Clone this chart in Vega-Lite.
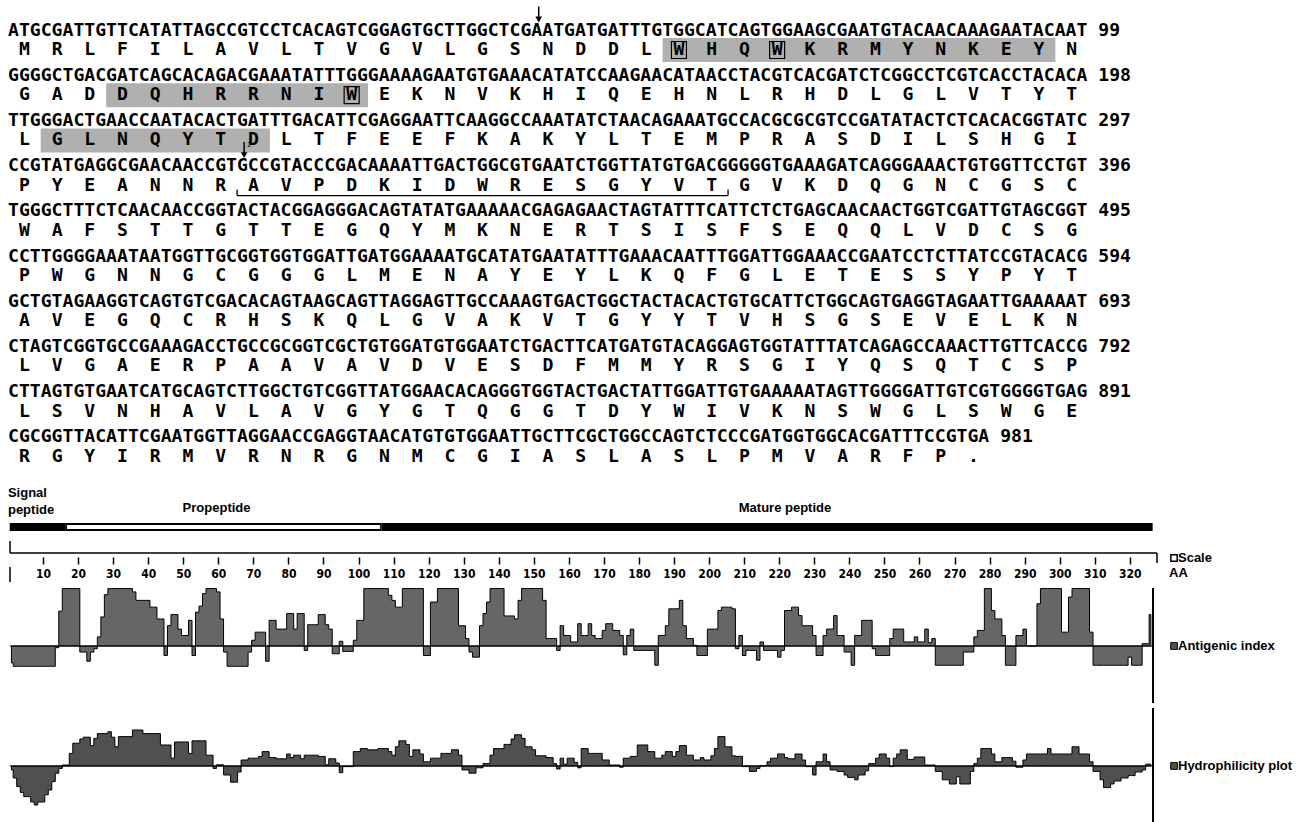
{
"$schema":"https://vega.github.io/schema/vega-lite/v6.json",
"padding":0,"spacing":0,"bounds":"flush","background":"white",
"config":{"view":{"stroke":null}},
"resolve":{"scale":{"x":"independent","y":"independent"}},
"datasets":{
"seq":[
{"row":1,"nt":"ATGCGATTGTTCATATTAGCCGTCCTCACAGTCGGAGTGCTTGGCTCGAATGATGATTTGTGGCATCAGTGGAAGCGAATGTACAACAAAGAATACAAT\u00a099","aa":["M","R","L","F","I","L","A","V","L","T","V","G","V","L","G","S","N","D","D","L","W","H","Q","W","K","R","M","Y","N","K","E","Y","N"],"c":[1,2,3,4,5,6,7,8,9,10,11,12,13,14,15,16,17,18,19,20,21,22,23,24,25,26,27,28,29,30,31,32,33]},
{"row":2,"nt":"GGGGCTGACGATCAGCACAGACGAAATATTTGGGAAAAGAATGTGAAACATATCCAAGAACATAACCTACGTCACGATCTCGGCCTCGTCACCTACACA\u00a0198","aa":["G","A","D","D","Q","H","R","R","N","I","W","E","K","N","V","K","H","I","Q","E","H","N","L","R","H","D","L","G","L","V","T","Y","T"],"c":[1,2,3,4,5,6,7,8,9,10,11,12,13,14,15,16,17,18,19,20,21,22,23,24,25,26,27,28,29,30,31,32,33]},
{"row":3,"nt":"TTGGGACTGAACCAATACACTGATTTGACATTCGAGGAATTCAAGGCCAAATATCTAACAGAAATGCCACGCGCGTCCGATATACTCTCACACGGTATC\u00a0297","aa":["L","G","L","N","Q","Y","T","D","L","T","F","E","E","F","K","A","K","Y","L","T","E","M","P","R","A","S","D","I","L","S","H","G","I"],"c":[1,2,3,4,5,6,7,8,9,10,11,12,13,14,15,16,17,18,19,20,21,22,23,24,25,26,27,28,29,30,31,32,33]},
{"row":4,"nt":"CCGTATGAGGCGAACAACCGTGCCGTACCCGACAAAATTGACTGGCGTGAATCTGGTTATGTGACGGGGGTGAAAGATCAGGGAAACTGTGGTTCCTGT\u00a0396","aa":["P","Y","E","A","N","N","R","A","V","P","D","K","I","D","W","R","E","S","G","Y","V","T","G","V","K","D","Q","G","N","C","G","S","C"],"c":[1,2,3,4,5,6,7,8,9,10,11,12,13,14,15,16,17,18,19,20,21,22,23,24,25,26,27,28,29,30,31,32,33]},
{"row":5,"nt":"TGGGCTTTCTCAACAACCGGTACTACGGAGGGACAGTATATGAAAAACGAGAGAACTAGTATTTCATTCTCTGAGCAACAACTGGTCGATTGTAGCGGT\u00a0495","aa":["W","A","F","S","T","T","G","T","T","E","G","Q","Y","M","K","N","E","R","T","S","I","S","F","S","E","Q","Q","L","V","D","C","S","G"],"c":[1,2,3,4,5,6,7,8,9,10,11,12,13,14,15,16,17,18,19,20,21,22,23,24,25,26,27,28,29,30,31,32,33]},
{"row":6,"nt":"CCTTGGGGAAATAATGGTTGCGGTGGTGGATTGATGGAAAATGCATATGAATATTTGAAACAATTTGGATTGGAAACCGAATCCTCTTATCCGTACACG\u00a0594","aa":["P","W","G","N","N","G","C","G","G","G","L","M","E","N","A","Y","E","Y","L","K","Q","F","G","L","E","T","E","S","S","Y","P","Y","T"],"c":[1,2,3,4,5,6,7,8,9,10,11,12,13,14,15,16,17,18,19,20,21,22,23,24,25,26,27,28,29,30,31,32,33]},
{"row":7,"nt":"GCTGTAGAAGGTCAGTGTCGACACAGTAAGCAGTTAGGAGTTGCCAAAGTGACTGGCTACTACACTGTGCATTCTGGCAGTGAGGTAGAATTGAAAAAT\u00a0693","aa":["A","V","E","G","Q","C","R","H","S","K","Q","L","G","V","A","K","V","T","G","Y","Y","T","V","H","S","G","S","E","V","E","L","K","N"],"c":[1,2,3,4,5,6,7,8,9,10,11,12,13,14,15,16,17,18,19,20,21,22,23,24,25,26,27,28,29,30,31,32,33]},
{"row":8,"nt":"CTAGTCGGTGCCGAAAGACCTGCCGCGGTCGCTGTGGATGTGGAATCTGACTTCATGATGTACAGGAGTGGTATTTATCAGAGCCAAACTTGTTCACCG\u00a0792","aa":["L","V","G","A","E","R","P","A","A","V","A","V","D","V","E","S","D","F","M","M","Y","R","S","G","I","Y","Q","S","Q","T","C","S","P"],"c":[1,2,3,4,5,6,7,8,9,10,11,12,13,14,15,16,17,18,19,20,21,22,23,24,25,26,27,28,29,30,31,32,33]},
{"row":9,"nt":"CTTAGTGTGAATCATGCAGTCTTGGCTGTCGGTTATGGAACACAGGGTGGTACTGACTATTGGATTGTGAAAAATAGTTGGGGATTGTCGTGGGGTGAG\u00a0891","aa":["L","S","V","N","H","A","V","L","A","V","G","Y","G","T","Q","G","G","T","D","Y","W","I","V","K","N","S","W","G","L","S","W","G","E"],"c":[1,2,3,4,5,6,7,8,9,10,11,12,13,14,15,16,17,18,19,20,21,22,23,24,25,26,27,28,29,30,31,32,33]},
{"row":10,"nt":"CGCGGTTACATTCGAATGGTTAGGAACCGAGGTAACATGTGTGGAATTGCTTCGCTGGCCAGTCTCCCGATGGTGGCACGATTTCCGTGA\u00a0981","aa":["R","G","Y","I","R","M","V","R","N","R","G","N","M","C","G","I","A","S","L","A","S","L","P","M","V","A","R","F","P","."],"c":[1,2,3,4,5,6,7,8,9,10,11,12,13,14,15,16,17,18,19,20,21,22,23,24,25,26,27,28,29,30]}
],
"boxes":[{"row":1,"from":21,"to":32},{"row":2,"from":4,"to":11},{"row":3,"from":2,"to":8}],
"wbox":[{"row":1,"codon":21},{"row":1,"codon":24},{"row":2,"codon":11}],
"sites":[{"row":1,"after":16,"label":""},{"row":4,"after":7,"label":"2"}],
"under":[{"row":4,"from":8,"to":22}],
"segments":[{"name":"Signal peptide","start":1,"end":16},{"name":"Propeptide","start":17,"end":106},{"name":"Mature peptide","start":107,"end":326}],
"profile":[
{"r":1,"a":-0.5,"h":-0.33},{"r":2,"a":-0.6,"h":-1.0},{"r":3,"a":-0.6,"h":-1.7},{"r":4,"a":-0.6,"h":-2.2},{"r":5,"a":-0.6,"h":-2.55},{"r":6,"a":-0.6,"h":-2.55},{"r":7,"a":-0.6,"h":-3.0},{"r":8,"a":-0.6,"h":-3.25},{"r":9,"a":-0.6,"h":-3.0},{"r":10,"a":-0.6,"h":-3.0},
{"r":11,"a":-0.6,"h":-2.4},{"r":12,"a":-0.6,"h":-2.0},{"r":13,"a":-0.6,"h":-1.3},{"r":14,"a":-0.05,"h":-0.6},{"r":15,"a":1.03,"h":-0.2},{"r":16,"a":1.7,"h":0.08},{"r":17,"a":1.7,"h":0.08},{"r":18,"a":1.7,"h":1.05},{"r":19,"a":1.7,"h":1.9},{"r":20,"a":1.7,"h":1.9},
{"r":21,"a":-0.18,"h":2.25},{"r":22,"a":-0.18,"h":2.4},{"r":23,"a":-0.45,"h":2.4},{"r":24,"a":-0.18,"h":1.7},{"r":25,"a":-0.08,"h":2.3},{"r":26,"a":0.27,"h":2.7},{"r":27,"a":0.86,"h":2.7},{"r":28,"a":1.52,"h":2.7},{"r":29,"a":1.7,"h":2.85},{"r":30,"a":1.7,"h":2.4},
{"r":31,"a":1.7,"h":1.6},{"r":32,"a":1.7,"h":2.45},{"r":33,"a":1.7,"h":2.45},{"r":34,"a":1.7,"h":2.45},{"r":35,"a":1.7,"h":2.45},{"r":36,"a":1.6,"h":3.0},{"r":37,"a":1.35,"h":3.0},{"r":38,"a":1.35,"h":3.0},{"r":39,"a":1.35,"h":2.7},{"r":40,"a":1.35,"h":2.7},
{"r":41,"a":1.15,"h":2.7},{"r":42,"a":1.15,"h":2.7},{"r":43,"a":0.8,"h":2.7},{"r":44,"a":0.8,"h":1.75},{"r":45,"a":-0.28,"h":1.75},{"r":46,"a":0.6,"h":1.75},{"r":47,"a":0.93,"h":0.65},{"r":48,"a":0.93,"h":2.0},{"r":49,"a":0.5,"h":2.0},{"r":50,"a":0.31,"h":2.0},
{"r":51,"a":0.31,"h":2.0},{"r":52,"a":0.76,"h":1.05},{"r":53,"a":-0.28,"h":2.1},{"r":54,"a":1.0,"h":2.1},{"r":55,"a":1.18,"h":2.1},{"r":56,"a":1.55,"h":2.1},{"r":57,"a":1.7,"h":0.9},{"r":58,"a":1.7,"h":0.9},{"r":59,"a":1.7,"h":-0.2},{"r":60,"a":1.6,"h":0.1},
{"r":61,"a":0.8,"h":0.1},{"r":62,"a":-0.18,"h":-0.75},{"r":63,"a":-0.6,"h":-0.75},{"r":64,"a":-0.6,"h":-1.35},{"r":65,"a":-0.6,"h":-1.35},{"r":66,"a":-0.6,"h":-0.5},{"r":67,"a":-0.6,"h":0.5},{"r":68,"a":-0.6,"h":0.5},{"r":69,"a":-0.18,"h":0.65},{"r":70,"a":0.17,"h":0.65},
{"r":71,"a":0.41,"h":0.65},{"r":72,"a":0.41,"h":0.8},{"r":73,"a":0.41,"h":1.2},{"r":74,"a":-0.45,"h":1.2},{"r":75,"a":0.76,"h":0.7},{"r":76,"a":0.76,"h":0.7},{"r":77,"a":0.5,"h":0.6},{"r":78,"a":0.5,"h":0.6},{"r":79,"a":0.5,"h":0.6},{"r":80,"a":0.96,"h":1.0},
{"r":81,"a":0.96,"h":0.7},{"r":82,"a":0.5,"h":0.9},{"r":83,"a":0.96,"h":0.9},{"r":84,"a":0.96,"h":0.6},{"r":85,"a":-0.13,"h":0.9},{"r":86,"a":0.63,"h":0.9},{"r":87,"a":0.63,"h":0.9},{"r":88,"a":0.63,"h":0.9},{"r":89,"a":0.93,"h":0.8},{"r":90,"a":0.93,"h":0.8},
{"r":91,"a":0.63,"h":0.1},{"r":92,"a":0.5,"h":0.6},{"r":93,"a":-0.23,"h":0.6},{"r":94,"a":-0.23,"h":0.25},{"r":95,"a":0.14,"h":-0.55},{"r":96,"a":-0.16,"h":-0.05},{"r":97,"a":-0.16,"h":-0.05},{"r":98,"a":-0.16,"h":-0.05},{"r":99,"a":0.17,"h":1.2},{"r":100,"a":0.76,"h":1.2},
{"r":101,"a":0.76,"h":1.45},{"r":102,"a":1.7,"h":1.45},{"r":103,"a":1.7,"h":1.35},{"r":104,"a":1.7,"h":1.35},{"r":105,"a":1.7,"h":1.35},{"r":106,"a":1.7,"h":1.45},{"r":107,"a":1.7,"h":1.45},{"r":108,"a":1.7,"h":1.45},{"r":109,"a":1.5,"h":1.2},{"r":110,"a":1.35,"h":0.9},
{"r":111,"a":1.15,"h":1.6},{"r":112,"a":1.15,"h":2.1},{"r":113,"a":1.7,"h":2.1},{"r":114,"a":1.7,"h":1.8},{"r":115,"a":1.7,"h":0.8},{"r":116,"a":1.7,"h":1.35},{"r":117,"a":1.7,"h":1.35},{"r":118,"a":1.7,"h":1.0},{"r":119,"a":-0.28,"h":0.35},{"r":120,"a":-0.28,"h":0.35},
{"r":121,"a":1.3,"h":0.65},{"r":122,"a":1.3,"h":0.65},{"r":123,"a":1.7,"h":0.65},{"r":124,"a":1.7,"h":1.05},{"r":125,"a":1.7,"h":1.05},{"r":126,"a":1.7,"h":1.05},{"r":127,"a":1.7,"h":1.35},{"r":128,"a":1.7,"h":1.35},{"r":129,"a":0.6,"h":0.9},{"r":130,"a":0.6,"h":-0.33},
{"r":131,"a":0.22,"h":-0.33},{"r":132,"a":-0.18,"h":-0.6},{"r":133,"a":-0.33,"h":-0.6},{"r":134,"a":-0.33,"h":-0.15},{"r":135,"a":0.6,"h":-0.15},{"r":136,"a":0.96,"h":0.2},{"r":137,"a":1.3,"h":0.2},{"r":138,"a":1.7,"h":0.9},{"r":139,"a":1.7,"h":1.45},{"r":140,"a":1.7,"h":1.45},
{"r":141,"a":1.7,"h":1.45},{"r":142,"a":0.89,"h":1.8},{"r":143,"a":0.89,"h":1.8},{"r":144,"a":0.89,"h":2.25},{"r":145,"a":0.8,"h":2.6},{"r":146,"a":1.35,"h":2.6},{"r":147,"a":1.7,"h":2.3},{"r":148,"a":1.7,"h":1.6},{"r":149,"a":1.7,"h":1.6},{"r":150,"a":1.7,"h":1.35},
{"r":151,"a":1.7,"h":0.85},{"r":152,"a":1.7,"h":0.85},{"r":153,"a":1.35,"h":0.85},{"r":154,"a":0.22,"h":0.7},{"r":155,"a":0.22,"h":0.7},{"r":156,"a":0.22,"h":0.2},{"r":157,"a":-0.13,"h":-0.25},{"r":158,"a":0.6,"h":0.65},{"r":159,"a":0.31,"h":0.15},{"r":160,"a":0.31,"h":0.65},
{"r":161,"a":0.12,"h":0.65},{"r":162,"a":0.12,"h":0.3},{"r":163,"a":0.66,"h":-0.15},{"r":164,"a":0.31,"h":1.45},{"r":165,"a":0.31,"h":1.45},{"r":166,"a":0.66,"h":1.05},{"r":167,"a":0.31,"h":1.05},{"r":168,"a":0.22,"h":1.05},{"r":169,"a":0.22,"h":1.05},{"r":170,"a":0.46,"h":0.5},
{"r":171,"a":0.66,"h":0.5},{"r":172,"a":0.66,"h":0.08},{"r":173,"a":0.46,"h":0.08},{"r":174,"a":0.46,"h":0.08},{"r":175,"a":0.31,"h":-0.1},{"r":176,"a":-0.26,"h":0.65},{"r":177,"a":0.31,"h":0.65},{"r":178,"a":0.5,"h":0.8},{"r":179,"a":-0.13,"h":0.8},{"r":180,"a":-0.13,"h":1.75},
{"r":181,"a":-0.13,"h":1.75},{"r":182,"a":-0.13,"h":1.75},{"r":183,"a":-0.13,"h":1.2},{"r":184,"a":-0.13,"h":1.2},{"r":185,"a":-0.57,"h":0.65},{"r":186,"a":0.31,"h":0.65},{"r":187,"a":0.31,"h":0.9},{"r":188,"a":0.6,"h":1.2},{"r":189,"a":1.1,"h":1.2},{"r":190,"a":1.1,"h":0.8},
{"r":191,"a":1.1,"h":1.2},{"r":192,"a":1.35,"h":1.7},{"r":193,"a":0.6,"h":1.7},{"r":194,"a":0.22,"h":0.9},{"r":195,"a":0.22,"h":0.9},{"r":196,"a":0.02,"h":0.5},{"r":197,"a":-0.28,"h":0.5},{"r":198,"a":-0.28,"h":0.7},{"r":199,"a":-0.28,"h":0.5},{"r":200,"a":0.5,"h":0.5},
{"r":201,"a":0.5,"h":0.85},{"r":202,"a":0.5,"h":1.45},{"r":203,"a":1.05,"h":2.45},{"r":204,"a":1.15,"h":2.45},{"r":205,"a":1.15,"h":1.6},{"r":206,"a":1.15,"h":1.6},{"r":207,"a":1.1,"h":0.85},{"r":208,"a":-0.08,"h":0.8},{"r":209,"a":0.31,"h":0.8},{"r":210,"a":-0.28,"h":-0.05},
{"r":211,"a":-0.13,"h":-0.05},{"r":212,"a":-0.13,"h":-0.45},{"r":213,"a":-0.13,"h":-0.45},{"r":214,"a":-0.42,"h":-0.2},{"r":215,"a":0.12,"h":0.02},{"r":216,"a":-0.13,"h":0.02},{"r":217,"a":-0.13,"h":0.35},{"r":218,"a":-0.13,"h":0.65},{"r":219,"a":-0.13,"h":0.65},{"r":220,"a":-0.33,"h":1.0},
{"r":221,"a":-0.13,"h":1.0},{"r":222,"a":1.05,"h":0.7},{"r":223,"a":1.05,"h":0.6},{"r":224,"a":1.15,"h":0.6},{"r":225,"a":1.15,"h":1.0},{"r":226,"a":0.9,"h":1.0},{"r":227,"a":0.6,"h":0.5},{"r":228,"a":0.6,"h":-0.05},{"r":229,"a":0.6,"h":-0.05},{"r":230,"a":0.31,"h":-0.75},
{"r":231,"a":-0.28,"h":0.35},{"r":232,"a":-0.28,"h":0.35},{"r":233,"a":0.31,"h":1.0},{"r":234,"a":0.5,"h":0.35},{"r":235,"a":0.5,"h":-0.33},{"r":236,"a":0.9,"h":-0.33},{"r":237,"a":0.31,"h":-0.45},{"r":238,"a":0.31,"h":-0.45},{"r":239,"a":-0.18,"h":-0.75},{"r":240,"a":-0.18,"h":-0.95},
{"r":241,"a":-0.57,"h":-0.95},{"r":242,"a":0.31,"h":-1.15},{"r":243,"a":0.31,"h":-0.75},{"r":244,"a":0.76,"h":-0.75},{"r":245,"a":0.76,"h":-0.4},{"r":246,"a":0.76,"h":0.2},{"r":247,"a":-0.08,"h":0.2},{"r":248,"a":-0.28,"h":0.65},{"r":249,"a":-0.28,"h":1.0},{"r":250,"a":-0.28,"h":1.0},
{"r":251,"a":-0.28,"h":0.65},{"r":252,"a":0.22,"h":-0.05},{"r":253,"a":0.5,"h":0.65},{"r":254,"a":0.5,"h":1.0},{"r":255,"a":0.5,"h":1.35},{"r":256,"a":0.12,"h":1.35},{"r":257,"a":0.12,"h":0.55},{"r":258,"a":0.12,"h":0.55},{"r":259,"a":0.27,"h":0.75},{"r":260,"a":0.12,"h":0.75},
{"r":261,"a":0.12,"h":0.75},{"r":262,"a":0.5,"h":0.08},{"r":263,"a":0.1,"h":0.08},{"r":264,"a":0.22,"h":0.08},{"r":265,"a":-0.57,"h":-0.45},{"r":266,"a":-0.57,"h":-0.45},{"r":267,"a":-0.57,"h":-1.15},{"r":268,"a":-0.57,"h":-1.15},{"r":269,"a":-0.57,"h":-1.5},{"r":270,"a":-0.57,"h":-1.5},
{"r":271,"a":-0.57,"h":-0.9},{"r":272,"a":-0.57,"h":-1.5},{"r":273,"a":-0.18,"h":-1.5},{"r":274,"a":-0.18,"h":-1.5},{"r":275,"a":-0.18,"h":-0.45},{"r":276,"a":0.27,"h":0.2},{"r":277,"a":0.46,"h":0.65},{"r":278,"a":0.46,"h":1.45},{"r":279,"a":1.7,"h":1.45},{"r":280,"a":1.7,"h":1.45},
{"r":281,"a":1.05,"h":1.0},{"r":282,"a":0.8,"h":0.35},{"r":283,"a":0.8,"h":0.35},{"r":284,"a":0.31,"h":0.7},{"r":285,"a":-0.57,"h":0.7},{"r":286,"a":-0.57,"h":0.7},{"r":287,"a":-0.57,"h":0.4},{"r":288,"a":0.31,"h":-0.1},{"r":289,"a":0.31,"h":-0.1},{"r":290,"a":0.5,"h":0.5},
{"r":291,"a":0.0,"h":1.0},{"r":292,"a":0.0,"h":1.0},{"r":293,"a":0.0,"h":1.0},{"r":294,"a":1.25,"h":1.0},{"r":295,"a":1.7,"h":1.0},{"r":296,"a":1.7,"h":1.0},{"r":297,"a":1.7,"h":1.45},{"r":298,"a":1.7,"h":1.0},{"r":299,"a":1.7,"h":1.0},{"r":300,"a":1.7,"h":1.0},
{"r":301,"a":0.41,"h":1.0},{"r":302,"a":0.41,"h":1.0},{"r":303,"a":1.45,"h":1.0},{"r":304,"a":1.7,"h":1.6},{"r":305,"a":1.7,"h":1.6},{"r":306,"a":1.7,"h":1.0},{"r":307,"a":1.7,"h":1.0},{"r":308,"a":1.7,"h":1.0},{"r":309,"a":0.41,"h":0.35},{"r":310,"a":-0.57,"h":-0.45},
{"r":311,"a":-0.57,"h":-0.45},{"r":312,"a":-0.57,"h":-1.15},{"r":313,"a":-0.57,"h":-1.8},{"r":314,"a":-0.57,"h":-1.8},{"r":315,"a":-0.57,"h":-1.5},{"r":316,"a":-0.57,"h":-1.25},{"r":317,"a":-0.57,"h":-1.25},{"r":318,"a":-0.57,"h":-1.0},{"r":319,"a":-0.57,"h":-1.0},{"r":320,"a":-0.33,"h":-0.8},
{"r":321,"a":-0.57,"h":-0.8},{"r":322,"a":-0.57,"h":-0.5},{"r":323,"a":-0.57,"h":-0.5},{"r":324,"a":0.07,"h":-0.33},{"r":325,"a":0.07,"h":0.15},{"r":326,"a":0.93,"h":0.15}
]
},
"vconcat":[
{
"width":1298,"height":478,
"layer":[
{"data":{"name":"boxes"},"mark":{"type":"rect","color":"#b0b0b0","xOffset":-16.37,"x2Offset":16.37,"yOffset":7.5,"y2Offset":31.5},
"encoding":{"x":{"field":"from","type":"quantitative","scale":{"domain":[0.2556,39.914],"nice":false,"zero":false},"axis":null},"x2":{"field":"to"},
"y":{"field":"row","type":"quantitative","scale":{"domain":[0.3252,10.9],"reverse":true,"nice":false,"zero":false},"axis":null},"y2":{"field":"row"}}},
{"data":{"name":"wbox"},"mark":{"type":"rect","fillOpacity":0,"stroke":"black","strokeWidth":1.2,"xOffset":-7.5,"x2Offset":7.5,"yOffset":11,"y2Offset":28},
"encoding":{"x":{"field":"codon","type":"quantitative"},"x2":{"field":"codon"},"y":{"field":"row","type":"quantitative"},"y2":{"field":"row"}}},
{"data":{"name":"seq"},"mark":{"type":"text","align":"left","baseline":"middle","font":"DejaVu Sans Mono","fontWeight":"bold","fontSize":18.12,"color":"black"},
"encoding":{"x":{"datum":0.5},"y":{"field":"row","type":"quantitative"},"text":{"field":"nt"}}},
{"data":{"name":"seq"},"transform":[{"flatten":["aa","c"]}],"mark":{"type":"text","align":"center","baseline":"middle","font":"DejaVu Sans Mono","fontWeight":"bold","fontSize":18.12,"color":"black","dy":19.5},
"encoding":{"x":{"field":"c","type":"quantitative"},"y":{"field":"row","type":"quantitative"},"text":{"field":"aa"}}},
{"data":{"name":"sites"},"mark":{"type":"rule","color":"black","strokeWidth":1.5,"xOffset":23.4,"yOffset":-24,"y2Offset":-12},
"encoding":{"x":{"field":"after","type":"quantitative"},"y":{"field":"row","type":"quantitative"},"y2":{"field":"row"}}},
{"data":{"name":"sites"},"mark":{"type":"point","shape":"triangle-down","filled":true,"color":"black","opacity":1,"size":45,"xOffset":23.4,"yOffset":-11},
"encoding":{"x":{"field":"after","type":"quantitative"},"y":{"field":"row","type":"quantitative"}}},
{"data":{"name":"sites"},"mark":{"type":"text","font":"Liberation Sans","fontSize":7,"align":"left","baseline":"middle","dx":26.5,"dy":-21,"color":"black"},
"encoding":{"x":{"field":"after","type":"quantitative"},"y":{"field":"row","type":"quantitative"},"text":{"field":"label"}}},
{"data":{"name":"under"},"mark":{"type":"rule","color":"black","strokeWidth":1.3,"xOffset":-16.37,"x2Offset":16.37,"yOffset":29.5},
"encoding":{"x":{"field":"from","type":"quantitative"},"x2":{"field":"to"},"y":{"field":"row","type":"quantitative"}}},
{"data":{"name":"under"},"mark":{"type":"rule","color":"black","strokeWidth":1.3,"xOffset":-16.37,"yOffset":23.5,"y2Offset":29.5},
"encoding":{"x":{"field":"from","type":"quantitative"},"y":{"field":"row","type":"quantitative"},"y2":{"field":"row"}}},
{"data":{"name":"under"},"mark":{"type":"rule","color":"black","strokeWidth":1.3,"xOffset":16.37,"yOffset":23.5,"y2Offset":29.5},
"encoding":{"x":{"field":"to","type":"quantitative"},"y":{"field":"row","type":"quantitative"},"y2":{"field":"row"}}}
]
},
{
"width":1298,"height":110,
"layer":[
{"data":{"name":"segments"},"mark":{"type":"rect","color":"black","xOffset":-1.75,"x2Offset":1.75},
"encoding":{"x":{"field":"start","type":"quantitative","scale":{"domain":[-2.265,367.96],"nice":false,"zero":false},
"axis":{"orient":"bottom","offset":-31,"values":[10,20,30,40,50,60,70,80,90,100,110,120,130,140,150,160,170,180,190,200,210,220,230,240,250,260,270,280,290,300,310,320],"domain":false,"grid":false,"title":null,"ticks":true,"tickSize":7,"tickWidth":1.5,"tickColor":"black","labelColor":"black","labelFont":"Liberation Sans Narrow, DejaVu Sans Condensed, Liberation Sans","labelFontWeight":"bold","labelFontSize":12,"labelPadding":4,"labelOverlap":false,"labelFlush":false}},
"x2":{"field":"end"},
"y":{"datum":45,"scale":{"domain":[0,110],"reverse":true,"nice":false,"zero":false},"axis":null},"y2":{"datum":53}}},
{"data":{"name":"segments"},"transform":[{"filter":"datum.name == 'Propeptide'"}],"mark":{"type":"rect","color":"white","xOffset":-0.5,"x2Offset":0.5},
"encoding":{"x":{"field":"start","type":"quantitative"},"x2":{"field":"end"},"y":{"datum":47},"y2":{"datum":51}}},
{"data":{"name":"segments"},"transform":[{"filter":"datum.name == 'Signal peptide'"}],"mark":{"type":"text","align":"left","baseline":"alphabetic","dx":-3.5,"lineBreak":" ","lineHeight":17,"font":"Liberation Sans","fontWeight":"bold","fontSize":13,"color":"black"},
"encoding":{"x":{"field":"start","type":"quantitative"},"y":{"datum":18.5},"text":{"field":"name"}}},
{"data":{"name":"segments"},"transform":[{"filter":"datum.name == 'Propeptide'"},{"calculate":"(datum.start + datum.end) / 2","as":"mid"}],"mark":{"type":"text","align":"center","baseline":"alphabetic","dx":-7,"font":"Liberation Sans","fontWeight":"bold","fontSize":13,"color":"black"},
"encoding":{"x":{"field":"mid","type":"quantitative"},"y":{"datum":33.5},"text":{"field":"name"}}},
{"data":{"name":"segments"},"transform":[{"filter":"datum.name == 'Mature peptide'"},{"calculate":"(datum.start + datum.end) / 2","as":"mid"}],"mark":{"type":"text","align":"center","baseline":"alphabetic","dx":18,"font":"Liberation Sans","fontWeight":"bold","fontSize":13,"color":"black"},
"encoding":{"x":{"field":"mid","type":"quantitative"},"y":{"datum":33.5},"text":{"field":"name"}}},
{"data":{"values":[{}]},"mark":{"type":"rule","color":"black","strokeWidth":1.5},"encoding":{"x":{"datum":0.59},"y":{"datum":63},"y2":{"datum":75}}},
{"data":{"values":[{}]},"mark":{"type":"rule","color":"black","strokeWidth":1.5},"encoding":{"x":{"datum":0.59},"x2":{"datum":327.74},"y":{"datum":75}}},
{"data":{"values":[{}]},"mark":{"type":"rule","color":"black","strokeWidth":1.5},"encoding":{"x":{"datum":327.74},"y":{"datum":75},"y2":{"datum":85}}},
{"data":{"values":[{}]},"mark":{"type":"rule","color":"black","strokeWidth":1.5},"encoding":{"x":{"datum":0.59},"y":{"datum":89},"y2":{"datum":104}}},
{"data":{"values":[{}]},"mark":{"type":"point","shape":"square","filled":false,"color":"black","strokeWidth":1.5,"size":40,"opacity":1},"encoding":{"x":{"datum":332.6},"y":{"datum":80}}},
{"data":{"values":[{"label":"Scale"}]},"mark":{"type":"text","align":"left","baseline":"middle","font":"Liberation Sans","fontWeight":"bold","fontSize":13,"color":"black"},"encoding":{"x":{"datum":333.73},"y":{"datum":80},"text":{"field":"label"}}},
{"data":{"values":[{"label":"AA"}]},"mark":{"type":"text","align":"left","baseline":"middle","font":"Liberation Sans","fontWeight":"bold","fontSize":13,"color":"black"},"encoding":{"x":{"datum":331.2},"y":{"datum":95},"text":{"field":"label"}}}
]
},
{
"width":1298,"height":115,
"layer":[
{"data":{"name":"profile"},"mark":{"type":"area","interpolate":"step","fill":"#666666","stroke":"black","strokeWidth":1},
"encoding":{"x":{"field":"r","type":"quantitative","scale":{"domain":[-2.265,367.96],"nice":false,"zero":false},"axis":null},
"y":{"field":"a","type":"quantitative","scale":{"domain":[-1.686,1.716],"nice":false,"zero":false},"axis":null},"y2":{"datum":0}}},
{"data":{"values":[{}]},"mark":{"type":"rule","color":"black","strokeWidth":1},"encoding":{"x":{"datum":0.5},"x2":{"datum":326.5},"y":{"datum":0}}},
{"data":{"values":[{}]},"mark":{"type":"rule","color":"black","strokeWidth":2},"encoding":{"x":{"datum":326.6}}},
{"data":{"values":[{}]},"mark":{"type":"point","shape":"square","filled":true,"fill":"#555555","stroke":"black","strokeWidth":1,"size":45,"opacity":1},"encoding":{"x":{"datum":332.6},"y":{"datum":0}}},
{"data":{"values":[{"label":"Antigenic index"}]},"mark":{"type":"text","align":"left","baseline":"middle","font":"Liberation Sans","fontWeight":"bold","fontSize":13,"color":"black"},"encoding":{"x":{"datum":333.73},"y":{"datum":0},"text":{"field":"label"}}}
]
},
{
"width":1298,"height":119,
"layer":[
{"data":{"name":"profile"},"mark":{"type":"area","interpolate":"step","fill":"#505050","stroke":"black","strokeWidth":1},
"encoding":{"x":{"field":"r","type":"quantitative","scale":{"domain":[-2.265,367.96],"nice":false,"zero":false},"axis":null},
"y":{"field":"h","type":"quantitative","scale":{"domain":[-4.667,5.25],"nice":false,"zero":false},"axis":null},"y2":{"datum":0}}},
{"data":{"values":[{}]},"mark":{"type":"rule","color":"black","strokeWidth":1},"encoding":{"x":{"datum":0.5},"x2":{"datum":326.5},"y":{"datum":0}}},
{"data":{"values":[{}]},"mark":{"type":"rule","color":"black","strokeWidth":2},"encoding":{"x":{"datum":326.6},"y":{"datum":4.833},"y2":{"datum":-4.667}}},
{"data":{"values":[{}]},"mark":{"type":"point","shape":"square","filled":true,"fill":"#505050","stroke":"black","strokeWidth":1,"size":45,"opacity":1},"encoding":{"x":{"datum":332.6},"y":{"datum":0}}},
{"data":{"values":[{"label":"Hydrophilicity plot"}]},"mark":{"type":"text","align":"left","baseline":"middle","font":"Liberation Sans","fontWeight":"bold","fontSize":13,"color":"black"},"encoding":{"x":{"datum":333.73},"y":{"datum":0},"text":{"field":"label"}}}
]
}
]
}
